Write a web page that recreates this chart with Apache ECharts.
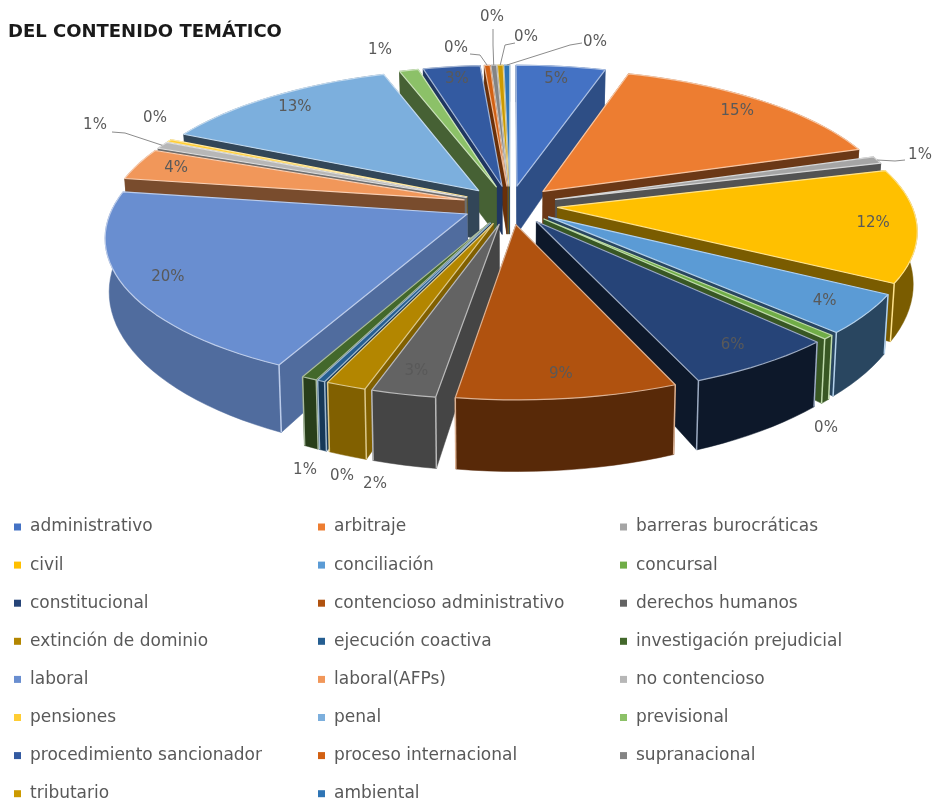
<!DOCTYPE html>
<html>
<head>
<meta charset="utf-8">
<style>html,body{margin:0;padding:0;background:#fff}#chart{width:937px;height:801px}</style>
<script src="https://cdn.jsdelivr.net/npm/echarts@6/dist/echarts.min.js"></script>
</head>
<body>
<div id="chart"></div>
<script>
// categories and shares (clockwise from 12 o'clock)
const categories = ['administrativo', 'arbitraje', 'barreras burocráticas', 'civil', 'conciliación', 'concursal',
  'constitucional', 'contencioso administrativo', 'derechos humanos', 'extinción de dominio', 'ejecución coactiva',
  'investigación prejudicial', 'laboral', 'laboral(AFPs)', 'no contencioso', 'pensiones', 'penal', 'previsional',
  'procedimiento sancionador', 'proceso internacional', 'supranacional', 'tributario', 'ambiental'];
const shares = [4.7, 15.2, 0.8, 12.4, 4.3, 0.45, 5.9, 8.5, 2.5, 1.55, 0.3, 0.6, 20.15, 3.5, 0.8, 0.3, 12.7, 1, 3, 0.3, 0.3, 0.3, 0.3];
const colors = ['#4472C4', '#ED7D31', '#A5A5A5', '#FFC000', '#5B9BD5', '#70AD47', '#264478', '#B0520F', '#636363',
  '#B38600', '#255E91', '#43682B', '#698ED0', '#F1975A', '#B7B7B7', '#FFCD33', '#7CAFDD', '#8CC168', '#335AA1',
  '#D26012', '#848484', '#CC9A00', '#2F75B5'];
// how dark the side walls of each slice are
const wallShade = [0.68, 0.45, 0.5, 0.48, 0.45, 0.5, 0.35, 0.5, 0.7, 0.72, 0.6, 0.6, 0.76, 0.5, 0.6, 0.5, 0.4, 0.5, 0.6, 0.5, 0.6, 0.6, 0.6];

// labels that sit outside the pie: [label x, label y, then leader start and elbow if it has a leader]
const outerLabels = {
  'barreras burocráticas': [920, 155, 905, 160, 895, 161],
  'concursal': [826, 428],
  'ejecución coactiva': [342, 476],
  'extinción de dominio': [375, 484],
  'investigación prejudicial': [305, 470],
  'no contencioso': [95, 125, 112, 132, 125, 133],
  'pensiones': [155, 118],
  'previsional': [380, 50],
  'proceso internacional': [456, 48, 470, 54, 480, 55],
  'supranacional': [492, 17, 493, 29, 493, 45],
  'tributario': [526, 37, 515, 43, 505, 45],
  'ambiental': [595, 42, 582, 43, 570, 45]
};

const CX = 510, CY = 205, RX = 354, RY = 143.6, PERSP = 0.145, EXPLODE = 0.135, DEPTH = 50;

const total = shares.reduce((a, b) => a + b, 0);
let acc = 0;
const slices = shares.map((v, i) => {
  const start = acc / total * Math.PI * 2;
  acc += v;
  const end = acc / total * Math.PI * 2;
  return { i, name: categories[i], start, end, mid: (start + end) / 2, pct: Math.round(v / total * 100) };
});

// disc point -> screen, keeps the wall height at that depth too
function project(r, a, mid) {
  const u = r * Math.sin(a) + EXPLODE * Math.sin(mid);
  const v = -(r * Math.cos(a) + EXPLODE * Math.cos(mid));
  const s = 1 / (1 - PERSP * v);
  return { x: CX + RX * u * s, y: CY + RY * v * s, h: DEPTH * s * s };
}
const lower = p => [CX + (p.x - CX) * 0.99, p.y + p.h];
const upper = p => [p.x, p.y];

function shade(hex, f) {
  const c = [1, 3, 5].map(k => parseInt(hex.substr(k, 2), 16) * f);
  return 'rgb(' + c.map(Math.round).join(',') + ')';
}
function tint(hex, f) {
  const c = [1, 3, 5].map(k => { const n = parseInt(hex.substr(k, 2), 16); return n + (255 - n) * f; });
  return 'rgb(' + c.map(Math.round).join(',') + ')';
}

function sliceItem(sl) {
  const rim = [];
  const steps = Math.max(2, Math.ceil((sl.end - sl.start) / 0.04));
  for (let k = 0; k <= steps; k++) {
    rim.push(project(1, sl.start + (sl.end - sl.start) * k / steps, sl.mid));
  }
  const apex = project(0, 0, sl.mid);
  const first = rim[0], last = rim[rim.length - 1];
  const walls = [
    [upper(apex), upper(first), lower(first), lower(apex)],
    [upper(apex), upper(last), lower(last), lower(apex)],
    rim.map(upper).concat(rim.slice().reverse().map(lower))
  ];
  const meanY = pts => pts.reduce((a, p) => a + p[1], 0) / pts.length;
  walls.sort((a, b) => meanY(a) - meanY(b));

  const base = colors[sl.i];
  const edge = tint(base, 0.55);
  const dark = shade(base, wallShade[sl.i]);
  const children = walls.map(points => ({
    type: 'polygon',
    shape: { points },
    style: { fill: dark, stroke: dark, lineWidth: 0.5 }
  }));
  // pale vertical edge at the front corners
  [first, last].forEach(p => {
    if (p.y > CY + 60) {
      children.push({
        type: 'line',
        shape: { x1: p.x, y1: p.y, x2: lower(p)[0], y2: lower(p)[1] },
        style: { stroke: edge, lineWidth: 1.5 }
      });
    }
  });
  children.push({
    type: 'polygon',
    shape: { points: [upper(apex)].concat(rim.map(upper)) },
    style: { fill: base, stroke: edge, lineWidth: 1.2, lineJoin: 'round' }
  });
  return { type: 'group', children };
}

function labelItems() {
  const children = [];
  slices.forEach(sl => {
    const out = outerLabels[sl.name];
    let x, y;
    if (out) {
      x = out[0];
      y = out[1];
      if (out.length > 2) {
        const p = project(1, sl.mid, sl.mid);
        children.push({
          type: 'polyline',
          shape: { points: [[out[2], out[3]], [out[4], out[5]], [p.x, p.y]] },
          style: { fill: 'none', stroke: '#8c8c8c', lineWidth: 1 }
        });
      }
    } else {
      const p = project(0.88, sl.mid, sl.mid);
      x = p.x;
      y = p.y;
    }
    children.push({
      type: 'text',
      style: {
        x, y, text: sl.pct + '%', fill: '#595959',
        font: '15px "DejaVu Sans"', align: 'center', verticalAlign: 'middle'
      }
    });
  });
  return { type: 'group', children };
}

// far slices first, near slices painted over them
const depthRank = {};
slices.slice().sort((a, b) => Math.cos(b.mid) - Math.cos(a.mid)).forEach((sl, n) => { depthRank[sl.i] = n; });

const series = slices.map(sl => ({
  type: 'custom',
  name: sl.name,
  coordinateSystem: 'none',
  z: 5 + depthRank[sl.i],
  silent: true,
  itemStyle: { color: colors[sl.i] },
  data: [shares[sl.i]],
  renderItem: () => sliceItem(sl)
}));
series.push({
  type: 'custom',
  name: 'etiquetas',
  coordinateSystem: 'none',
  z: 50,
  silent: true,
  data: [0],
  renderItem: labelItems
});

// legend runs across in three columns
const legendColumn = (col, left) => ({
  orient: 'vertical',
  left,
  top: 512,
  height: 330,
  itemWidth: 7,
  itemHeight: 7,
  itemGap: 18.1,
  icon: 'rect',
  selectedMode: false,
  textStyle: { color: '#595959', fontFamily: 'DejaVu Sans', fontSize: 17, lineHeight: 20, padding: [0, 0, 0, 4] },
  data: categories.filter((c, i) => i % 3 === col)
});

const chart = echarts.init(document.getElementById('chart'), null, { renderer: 'canvas' });
chart.setOption({
  animation: false,
  backgroundColor: '#fff',
  title: {
    text: 'DEL CONTENIDO TEMÁTICO',
    left: 8,
    top: 23,
    padding: 0,
    textStyle: { color: '#1a1a1a', fontFamily: 'DejaVu Sans', fontWeight: 'bold', fontSize: 18 }
  },
  legend: [legendColumn(0, 9), legendColumn(1, 313), legendColumn(2, 615)],
  series
});
</script>
</body>
</html>
